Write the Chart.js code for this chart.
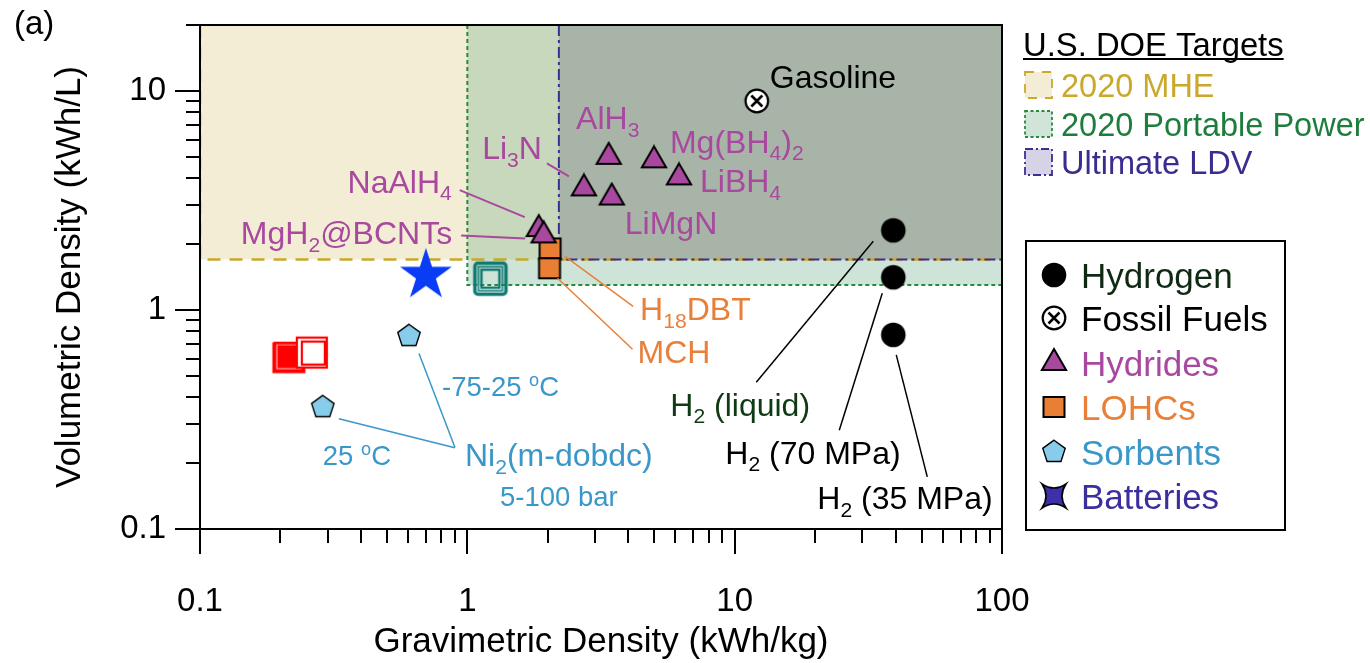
<!DOCTYPE html>
<html>
<head>
<meta charset="utf-8">
<script src="https://cdn.jsdelivr.net/npm/chart.js@4.4.1/dist/chart.umd.min.js"></script>
<style>
  html, body { margin: 0; padding: 0; background: #fff; }
  #wrap { width: 1370px; height: 663px; }
</style>
</head>
<body>
<div id="wrap"><canvas id="c" width="1370" height="663"></canvas></div>
<script>
// ---------- data: gravimetric (kWh/kg) and volumetric (kWh/L) densities ----------
const hydrogenNames = ['H_2 (liquid)', 'H_2 (70 MPa)', 'H_2 (35 MPa)'];
const hydrogenGrav  = [39.2, 39.2, 39.2];
const hydrogenVol   = [2.31, 1.41, 0.77];

const fossilNames = ['Gasoline'];
const fossilGrav  = [12.1];
const fossilVol   = [9.0];

const hydrideNames = ['AlH_3', 'Mg(BH_4)_2', 'LiBH_4', 'Li_3N', 'LiMgN', 'NaAlH_4', 'MgH_2@BCNTs'];
const hydrideGrav  = [3.38, 4.99, 6.19, 2.73, 3.47, 1.85, 1.93];
const hydrideVol   = [5.0, 4.82, 4.03, 3.59, 3.26, 2.34, 2.19];

const lohcNames = ['H_{18}DBT', 'MCH'];
const lohcGrav  = [2.04, 2.03];
const lohcVol   = [1.91, 1.55];

const sorbentNames = ['-75-25 ^oC', '25 ^oC'];
const sorbentGrav  = [0.605, 0.288];
const sorbentVol   = [0.76, 0.36];

const batteryGrav = [0.70];
const batteryVol  = [1.44];

const otherTealGrav = [1.22];
const otherTealVol  = [1.39];
const otherRedSolidGrav = [0.215];
const otherRedSolidVol  = [0.612];
const otherRedOpenGrav  = [0.262];
const otherRedOpenVol   = [0.639];

// U.S. DOE targets (lower-left corner of each target region)
const targetNames = ['2020 MHE', '2020 Portable Power', 'Ultimate LDV'];
const targetGrav  = [0.1, 1.0, 2.2];
const targetVol   = [1.7, 1.3, 1.7];

// axes
const xRange = [0.1, 100];
const yRange = [0.1, 20];
const xMajorTicks = [0.1, 1, 10, 100];
const xTickLabels = ['0.1', '1', '10', '100'];
const yMajorTicks = [0.1, 1, 10];
const yTickLabels = ['0.1', '1', '10'];

// ---------- styling ----------
const FONT = '"Liberation Sans", Arial, Helvetica, sans-serif';
const PURPLE = '#a8489e';
const ORANGE = '#e8803a';
const SKY = '#3a97c9';
const DKGREEN = '#0e3a14';
const INDIGO = '#3b2f9e';

function marker(w, h, draw) {
  const c = document.createElement('canvas');
  c.width = w; c.height = h;
  const g = c.getContext('2d');
  g.translate(w / 2, h / 2);
  draw(g);
  return c;
}
function polyPath(g, pts) {
  g.beginPath();
  pts.forEach((p, i) => i ? g.lineTo(p[0], p[1]) : g.moveTo(p[0], p[1]));
  g.closePath();
}
function regular(n, R, start) {
  const pts = [];
  for (let k = 0; k < n; k++) {
    const a = start + k * 2 * Math.PI / n;
    pts.push([R * Math.cos(a), R * Math.sin(a)]);
  }
  return pts;
}

const mk = {
  hydrogen: marker(28, 28, g => { g.beginPath(); g.arc(0, 0, 12.3, 0, 2 * Math.PI); g.fillStyle = '#000'; g.fill(); }),
  fossil: marker(28, 28, g => {
    g.beginPath(); g.arc(0, 0, 11.3, 0, 2 * Math.PI);
    g.fillStyle = '#fff'; g.fill(); g.lineWidth = 2.2; g.strokeStyle = '#000'; g.stroke();
    g.lineWidth = 2.6; g.beginPath();
    g.moveTo(-5.5, -5.5); g.lineTo(5.5, 5.5); g.moveTo(5.5, -5.5); g.lineTo(-5.5, 5.5); g.stroke();
  }),
  triangle: marker(32, 32, g => {
    polyPath(g, regular(3, 14, -Math.PI / 2));
    g.fillStyle = PURPLE; g.fill(); g.lineWidth = 2; g.strokeStyle = '#000'; g.lineJoin = 'miter'; g.stroke();
  }),
  square: marker(26, 26, g => {
    g.fillStyle = '#e87f35'; g.fillRect(-10.5, -10, 21, 20);
    g.lineWidth = 2; g.strokeStyle = '#000'; g.strokeRect(-10.5, -10, 21, 20);
  }),
  pentagon: marker(28, 28, g => {
    polyPath(g, regular(5, 11.8, -Math.PI / 2));
    g.fillStyle = '#88ccec'; g.fill(); g.lineWidth = 1.4; g.strokeStyle = '#000'; g.stroke();
  }),
  star: marker(60, 60, g => {
    const pts = [];
    for (let k = 0; k < 10; k++) {
      const r = k % 2 ? 10.4 : 27.2;
      const a = -Math.PI / 2 + k * Math.PI / 5;
      pts.push([r * Math.cos(a), r * Math.sin(a)]);
    }
    polyPath(g, pts); g.fillStyle = '#0a3cf6'; g.fill();
  }),
  teal: marker(40, 40, g => {
    g.strokeStyle = '#0f7a73';
    g.lineWidth = 3.5; g.beginPath(); g.roundRect(-15.5, -15.5, 31, 31, 3); g.stroke();
    g.lineWidth = 1.5; g.strokeRect(-12, -12, 24, 24);
    g.lineWidth = 2.5; g.strokeRect(-9, -9, 18, 18);
  }),
  redSolid: marker(40, 40, g => {
    g.fillStyle = '#ff0000'; g.fillRect(-15, -15, 30, 30);
    g.strokeStyle = 'rgba(255,255,255,0.8)'; g.lineWidth = 1; g.strokeRect(-12, -12, 24, 24);
    g.strokeStyle = '#ff0000'; g.lineWidth = 2; g.strokeRect(-15.5, -13.5, 31, 29);
  }),
  redOpen: marker(40, 40, g => {
    g.fillStyle = '#fff'; g.fillRect(-15, -15, 30, 30);
    g.strokeStyle = '#ff0000';
    g.lineWidth = 2.2; g.strokeRect(-15, -15, 30, 30);
    g.lineWidth = 2.2; g.strokeRect(-10, -11, 23, 23);
  }),
  battery: marker(30, 30, g => {
    const s = 12, d = 6;
    g.beginPath();
    g.moveTo(-s, -s);
    g.quadraticCurveTo(0, -s + d + 2, s, -s);
    g.quadraticCurveTo(s - d - 2, 0, s, s);
    g.quadraticCurveTo(0, s - d - 2, -s, s);
    g.quadraticCurveTo(-s + d + 2, 0, -s, -s);
    g.closePath();
    g.fillStyle = '#3d30a8'; g.fill(); g.lineWidth = 1.6; g.strokeStyle = '#000'; g.stroke();
  })
};

function pts(xs, ys) { return xs.map((x, i) => ({ x, y: ys[i] })); }
function ds(label, xs, ys, style) {
  return { label, data: pts(xs, ys), pointStyle: style, pointRadius: 12, pointHoverRadius: 12, showLine: false };
}

// draw order: first dataset is drawn on top
const datasets = [
  ds('Fossil Fuels', fossilGrav, fossilVol, mk.fossil),
  ds('Hydrogen', hydrogenGrav, hydrogenVol, mk.hydrogen),
  ds('Hydrides', hydrideGrav, hydrideVol, mk.triangle),
  ds('LOHCs', lohcGrav, lohcVol, mk.square),
  ds('Sorbents', sorbentGrav, sorbentVol, mk.pentagon),
  ds('Batteries', batteryGrav, batteryVol, mk.star),
  ds('Open teal square', otherTealGrav, otherTealVol, mk.teal),
  ds('Open red square', otherRedOpenGrav, otherRedOpenVol, mk.redOpen),
  ds('Filled red square', otherRedSolidGrav, otherRedSolidVol, mk.redSolid)
];
const setIndex = { fossil: 0, hydrogen: 1, hydride: 2, lohc: 3, sorbent: 4 };

// ---------- rich text (sub/superscripts: _x, _{xy}, ^x) ----------
function parseRich(s) {
  const parts = []; let buf = ''; let i = 0;
  while (i < s.length) {
    const c = s[i];
    if (c === '_' || c === '^') {
      if (buf) { parts.push({ t: buf, m: 0 }); buf = ''; }
      let t;
      if (s[i + 1] === '{') { const j = s.indexOf('}', i); t = s.slice(i + 2, j); i = j + 1; }
      else { t = s[i + 1]; i += 2; }
      parts.push({ t, m: c === '_' ? 1 : 2 });
    } else { buf += c; i++; }
  }
  if (buf) parts.push({ t: buf, m: 0 });
  return parts;
}
function drawRich(ctx, s, x, y, size, color, align) {
  const parts = parseRich(s);
  const small = size * 0.66;
  let w = 0;
  parts.forEach(p => { ctx.font = (p.m ? small : size) + 'px ' + FONT; p.w = ctx.measureText(p.t).width; w += p.w; });
  let cx = align === 'center' ? x - w / 2 : align === 'right' ? x - w : x;
  const base = y + size * 0.358;
  ctx.save();
  ctx.fillStyle = color; ctx.textBaseline = 'alphabetic'; ctx.textAlign = 'left';
  parts.forEach(p => {
    ctx.font = (p.m ? small : size) + 'px ' + FONT;
    const dy = p.m === 1 ? size * 0.24 : p.m === 2 ? -size * 0.37 : 0;
    ctx.fillText(p.t, cx, base + dy);
    cx += p.w;
  });
  ctx.restore();
  return w;
}

// ---------- annotation layout (pixel offsets from the marker) ----------
const labelSpecs = [
  { set: 'fossil', i: 0, dx: 13, dy: -24, align: 'left', color: '#000' },
  { set: 'hydride', i: 0, dx: -1, dy: -39, align: 'center', color: PURPLE },
  { set: 'hydride', i: 1, dx: 16, dy: -19, align: 'left', color: PURPLE },
  { set: 'hydride', i: 2, dx: 21, dy: 3, align: 'left', color: PURPLE },
  { set: 'hydride', i: 3, dx: -42, dy: -41, align: 'right', color: PURPLE },
  { set: 'hydride', i: 4, dx: 13, dy: 25, align: 'left', color: PURPLE },
  { set: 'hydride', i: 5, dx: -87, dy: -48, align: 'right', color: PURPLE },
  { set: 'hydride', i: 6, dx: -91.5, dy: -3, align: 'right', color: PURPLE },
  { set: 'lohc', i: 0, dx: 90, dy: 60, align: 'left', color: ORANGE },
  { set: 'lohc', i: 1, dx: 88, dy: 83, align: 'left', color: ORANGE },
  { set: 'hydrogen', i: 0, dx: -223, dy: 174, align: 'left', color: DKGREEN },
  { set: 'hydrogen', i: 1, dx: -168, dy: 175, align: 'left', color: '#000' },
  { set: 'hydrogen', i: 2, dx: -76, dy: 163, align: 'left', color: '#000' },
  { set: 'sorbent', i: 0, dx: 33, dy: 50, align: 'left', color: SKY, size: 27.5 },
  { set: 'sorbent', i: 1, dx: 0, dy: 48, align: 'left', color: SKY, size: 27.5 },
  { set: 'sorbent', i: 0, text: 'Ni_2(m-dobdc)', dx: 56, dy: 118.5, align: 'left', color: SKY, size: 32 },
  { set: 'sorbent', i: 0, text: '5-100 bar', dx: 91, dy: 160.5, align: 'left', color: SKY, size: 27.5 }
];
const leaderSpecs = [
  { set: 'hydride', i: 3, from: [-37, -25], to: [-15, -12], color: PURPLE, w: 2 },
  { set: 'hydride', i: 5, from: [-79, -39], to: [-14, -12], color: PURPLE, w: 2 },
  { set: 'hydride', i: 6, from: [-82.5, 0], to: [-18.5, 3], color: PURPLE, w: 2 },
  { set: 'lohc', i: 0, from: [15, 8], to: [83, 58], color: ORANGE, w: 1.5 },
  { set: 'lohc', i: 1, from: [8, 10], to: [83, 81], color: ORANGE, w: 1.5 },
  { set: 'hydrogen', i: 0, from: [-20, 11], to: [-137, 152], color: '#000', w: 1.5 },
  { set: 'hydrogen', i: 1, from: [-11, 16], to: [-54, 153], color: '#000', w: 1.5 },
  { set: 'hydrogen', i: 2, from: [3, 20], to: [34, 142], color: '#000', w: 1.5 },
  { set: 'sorbent', i: 0, from: [10, 17.5], to: [46, 111.5], color: SKY, w: 1.5 },
  { set: 'sorbent', i: 1, from: [16, 11.5], to: [132, 40.5], color: SKY, w: 1.5 }
];
const nameLists = { fossil: fossilNames, hydrogen: hydrogenNames, hydride: hydrideNames, lohc: lohcNames, sorbent: sorbentNames };

function markPixel(chart, set, i) {
  const p = chart.data.datasets[setIndex[set]].data[i];
  return [chart.scales.x.getPixelForValue(p.x), chart.scales.y.getPixelForValue(p.y)];
}

// ---------- DOE target regions + frame ----------
const regionStyles = [
  { fill: 'rgb(243,237,213)', stroke: '#c9a82a', dash: [13, 9], width: 2.5 },
  { fill: 'rgba(110,172,138,0.33)', stroke: '#2a8a3c', dash: [4, 3], width: 2 },
  { fill: 'rgba(100,95,122,0.3)', stroke: '#3a2f95', dash: [11, 4, 3, 4], width: 2 }
];
const regionPlugin = {
  id: 'regions',
  beforeDatasetsDraw(chart) {
    const { ctx, chartArea: a, scales: { x, y } } = chart;
    ctx.save();
    ctx.beginPath(); ctx.rect(a.left, a.top, a.right - a.left, a.bottom - a.top); ctx.clip();
    const rects = targetGrav.map((g, i) => {
      const x0 = Math.max(a.left, x.getPixelForValue(g));
      const y0 = Math.min(a.bottom, y.getPixelForValue(targetVol[i]));
      return [x0, y0];
    });
    rects.forEach((r, i) => { ctx.fillStyle = regionStyles[i].fill; ctx.fillRect(r[0], a.top, a.right - r[0], r[1] - a.top); });
    rects.forEach((r, i) => {
      const s = regionStyles[i];
      ctx.strokeStyle = s.stroke; ctx.lineWidth = s.width; ctx.setLineDash(s.dash);
      ctx.beginPath();
      ctx.moveTo(r[0], a.top); ctx.lineTo(r[0], r[1]); ctx.lineTo(a.right, r[1]);
      ctx.stroke();
    });
    ctx.restore();
    // axis frame
    ctx.save();
    ctx.strokeStyle = '#000'; ctx.lineWidth = 2;
    ctx.strokeRect(a.left, a.top, a.right - a.left, a.bottom - a.top);
    ctx.restore();
  },
  afterDraw(chart) {
    // longer marks for the decades
    const { ctx, chartArea: a, scales: { x, y } } = chart;
    ctx.save(); ctx.strokeStyle = '#000'; ctx.lineWidth = 2;
    xMajorTicks.forEach(v => { const px = Math.round(x.getPixelForValue(v)); ctx.beginPath(); ctx.moveTo(px, a.bottom); ctx.lineTo(px, a.bottom + 25); ctx.stroke(); });
    yMajorTicks.forEach(v => { const py = Math.round(y.getPixelForValue(v)); ctx.beginPath(); ctx.moveTo(a.left, py); ctx.lineTo(a.left - 25, py); ctx.stroke(); });
    ctx.restore();
  }
};

// ---------- labels, leaders ----------
const annotationPlugin = {
  id: 'annotations',
  afterDatasetsDraw(chart) {
    const ctx = chart.ctx;
    leaderSpecs.forEach(l => {
      const [px, py] = markPixel(chart, l.set, l.i);
      ctx.save(); ctx.strokeStyle = l.color; ctx.lineWidth = l.w;
      ctx.beginPath(); ctx.moveTo(px + l.from[0], py + l.from[1]); ctx.lineTo(px + l.to[0], py + l.to[1]); ctx.stroke();
      ctx.restore();
    });
    labelSpecs.forEach(l => {
      const [px, py] = markPixel(chart, l.set, l.i);
      const text = l.text || nameLists[l.set][l.i];
      drawRich(ctx, text, px + l.dx, py + l.dy, l.size || 32, l.color, l.align);
    });
    drawRich(ctx, '(a)', 14, 22, 33, '#000', 'left');
  }
};

// ---------- legends ----------
const targetTextColors = ['#c9a82c', '#1d7d3c', '#3a2d90'];
const swatchFills = ['rgb(243,237,213)', 'rgb(208,228,216)', 'rgb(214,211,230)'];
const legendOrder = ['Hydrogen', 'Fossil Fuels', 'Hydrides', 'LOHCs', 'Sorbents', 'Batteries'];
const legendTextColors = ['#0f2a12', '#000', PURPLE, ORANGE, SKY, INDIGO];
const legendMarkers = [mk.hydrogen, mk.fossil, mk.triangle, mk.square, mk.pentagon, mk.battery];

const legendPlugin = {
  id: 'customLegends',
  afterDraw(chart) {
    const ctx = chart.ctx;
    // DOE target key
    const w = drawRich(ctx, 'U.S. DOE Targets', 1023, 44, 32.8, '#000', 'left');
    ctx.save(); ctx.strokeStyle = '#000'; ctx.lineWidth = 2;
    ctx.beginPath(); ctx.moveTo(1023, 59); ctx.lineTo(1023 + w, 59); ctx.stroke(); ctx.restore();
    const rowY = [85, 124, 162];
    targetNames.forEach((n, i) => {
      const yc = rowY[i];
      ctx.save();
      ctx.fillStyle = swatchFills[i]; ctx.fillRect(1025, yc - 13, 27, 26);
      ctx.strokeStyle = regionStyles[i].stroke; ctx.lineWidth = 1.8;
      ctx.setLineDash(i === 0 ? [9, 8] : i === 1 ? [3, 2.5] : [8, 3, 2, 3]);
      ctx.strokeRect(1025, yc - 13, 27, 26);
      ctx.restore();
      drawRich(ctx, n, 1061, yc, 32.5, targetTextColors[i], 'left');
    });
    // marker key
    ctx.save(); ctx.strokeStyle = '#000'; ctx.lineWidth = 2;
    ctx.strokeRect(1026, 241, 259, 289); ctx.restore();
    const ly = [275, 318, 363, 407, 452, 496];
    legendOrder.forEach((n, i) => {
      const m = legendMarkers[i];
      ctx.drawImage(m, 1054 - m.width / 2, ly[i] - m.height / 2);
      drawRich(ctx, n, 1081, ly[i], 35, legendTextColors[i], 'left');
    });
  }
};

// ---------- scales ----------
function logTicks(majors, max) {
  const out = [];
  majors.forEach(m => { for (let k = 1; k <= 9; k++) { const v = m * k; if (v <= max * 1.0001) out.push(+v.toPrecision(6)); } });
  return out;
}
function labelFor(v, majors, labels) {
  const i = majors.findIndex(m => Math.abs(Math.log10(m) - Math.log10(v)) < 1e-6);
  return i >= 0 ? labels[i] : '';
}

new Chart(document.getElementById('c'), {
  type: 'scatter',
  data: { datasets },
  options: {
    responsive: false,
    animation: false,
    devicePixelRatio: 1,
    layout: { padding: { top: 25, right: 368, left: 0, bottom: 0 } },
    plugins: { legend: { display: false }, tooltip: { enabled: false } },
    scales: {
      x: {
        type: 'logarithmic', min: xRange[0], max: xRange[1], position: 'bottom',
        afterBuildTicks: s => { s.ticks = logTicks(xMajorTicks, xRange[1]).map(v => ({ value: v })); },
        afterFit: s => { s.height = 134; s.paddingLeft = 0; s.paddingRight = 0; },
        grid: { drawOnChartArea: false, drawTicks: true, tickLength: 14, lineWidth: 2, color: '#000' },
        border: { display: false },
        ticks: { autoSkip: false, maxRotation: 0, minRotation: 0, padding: 39, color: '#000',
          font: { family: FONT, size: 33 }, callback: v => labelFor(v, xMajorTicks, xTickLabels) },
        title: { display: true, text: 'Gravimetric Density (kWh/kg)', color: '#000',
          font: { family: FONT, size: 35 }, padding: { top: 0, bottom: 0 } }
      },
      y: {
        type: 'logarithmic', min: yRange[0], max: yRange[1], position: 'left',
        afterBuildTicks: s => { s.ticks = logTicks(yMajorTicks, yRange[1]).map(v => ({ value: v })); },
        afterFit: s => { s.width = 200; s.paddingTop = 0; s.paddingBottom = 0; },
        grid: { drawOnChartArea: false, drawTicks: true, tickLength: 14, lineWidth: 2, color: '#000' },
        border: { display: false },
        ticks: { autoSkip: false, padding: 20, color: '#000',
          font: { family: FONT, size: 33 }, callback: v => labelFor(v, yMajorTicks, yTickLabels) },
        title: { display: true, text: 'Volumetric Density (kWh/L)', color: '#000',
          font: { family: FONT, size: 35 }, padding: { top: 49, bottom: 0 } }
      }
    }
  },
  plugins: [regionPlugin, annotationPlugin, legendPlugin]
});
</script>
</body>
</html>
